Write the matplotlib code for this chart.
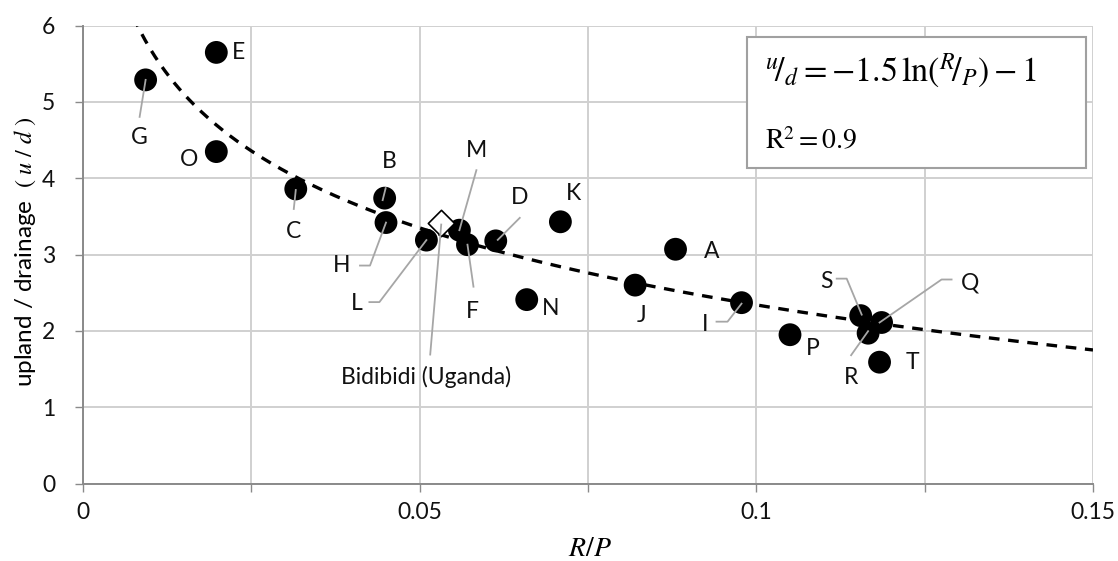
import numpy as np
import matplotlib
matplotlib.use("Agg")
import matplotlib.pyplot as plt
from matplotlib.ticker import FixedLocator, FixedFormatter

plt.rcParams['font.family'] = ['Lato', 'DejaVu Sans']
plt.rcParams['mathtext.fontset'] = 'stix'

# ---- data ----
labels = ['E', 'G', 'O', 'C', 'B', 'H', 'L', 'M', 'F', 'D', 'K', 'N',
          'A', 'J', 'I', 'P', 'S', 'Q', 'R', 'T']
rp = [0.0198, 0.0093, 0.0198, 0.0316, 0.0448, 0.0450, 0.0510, 0.0559,
      0.0571, 0.0613, 0.0709, 0.0659, 0.0880, 0.0820, 0.0978, 0.1050,
      0.1155, 0.1186, 0.1166, 0.1183]
ud = [5.65, 5.29, 4.35, 3.86, 3.74, 3.42, 3.19, 3.32, 3.13, 3.18, 3.43,
      2.41, 3.07, 2.60, 2.37, 1.95, 2.20, 2.11, 1.97, 1.59]
site_label = 'Bidibidi (Uganda)'
site_rp = 0.0532
site_ud = 3.42
# fitted curve u/d = a ln(R/P) + b
fit_a = -1.456
fit_b = -1.012
x_ticks = [0, 0.025, 0.05, 0.075, 0.1, 0.125, 0.15]
x_tick_labels = ['0', '', '0.05', '', '0.1', '', '0.15']
y_ticks = [0, 1, 2, 3, 4, 5, 6]

# ---- layout (label offsets in pixels, y up) ----
text_off = {'E': (22, 0), 'G': (-6, -58), 'O': (-27, -8), 'C': (-2, -43),
            'B': (5, 37), 'H': (-44, -43), 'L': (-70, -63), 'M': (17, 80),
            'F': (5, -67), 'D': (24, 43), 'K': (13, 28), 'N': (24, -9),
            'A': (36, -2), 'J': (6, -30), 'I': (-36, -22), 'P': (23, -14),
            'S': (-34, 34), 'Q': (88, 40), 'R': (-17, -44), 'T': (33, 0)}
leader = {'G': [(-6, -37), (0, 0)],
          'C': [(-2, -20), (0, -1)],
          'B': [(1, 10), (-2, -2)],
          'H': [(-26, -43), (-16, -43), (0, 0)],
          'L': [(-57, -62), (-47, -62), (0, 0)],
          'M': [(17, 60), (0, 0)],
          'F': [(6, -42), (0, 0)],
          'D': [(24, 23), (2, 1)],
          'I': [(-25, -19), (-14, -19), (0, -1)],
          'S': [(-24, 37), (-14, 37), (1, 1)],
          'Q': [(70, 43), (60, 43), (-2, 0)],
          'R': [(-17, -22), (0, 2)]}
site_text_off = (-15, -154)
site_leader = [(-11, -132), (0, -2)]

FS = 16.5
W, H = 1118, 561
fig = plt.figure(figsize=(W / 100, H / 100), dpi=100)
ax = fig.add_axes([83 / W, 1 - 483.5 / H, (1093 - 83) / W, (483.5 - 25.7) / H])
ax.set_xlim(0, 0.15)
ax.set_ylim(0, 6)

grid_c = '#d0d0d0'
ax.xaxis.set_major_locator(FixedLocator(x_ticks))
ax.xaxis.set_major_formatter(FixedFormatter(x_tick_labels))
ax.set_yticks(y_ticks)
ax.grid(True, color=grid_c, lw=1.4, zorder=0)
ax.set_axisbelow(True)
for s in ['top', 'right']:
    ax.spines[s].set_visible(False)
for s in ['left', 'bottom']:
    ax.spines[s].set_color('#8a8a8a')
    ax.spines[s].set_linewidth(1.4)
ax.tick_params(axis='both', direction='out', length=6, width=1.0, color='#8a8a8a',
               labelsize=FS, labelcolor='#111111')
ax.tick_params(axis='x', pad=7)
ax.tick_params(axis='y', pad=14)

ax.set_xlabel(r'$R/P$', fontsize=20, va='center')
ax.xaxis.set_label_coords((590 - 83) / 1010, -(548 - 483.5) / 457.8)
ax.set_ylabel(r'upland / drainage  $(\ u\ /\ d\ )$', fontsize=17.5, va='center')
ax.yaxis.set_label_coords((25 - 83) / 1010, (483.5 - 252) / 457.8)

# fit curve
xc = np.linspace(0.006, 0.15, 400)
yc = fit_a * np.log(xc) + fit_b
ax.plot(xc, yc, color='black', lw=2.4, ls=(0, (3.2, 2.6)), zorder=2, clip_on=True)

# points
ax.scatter(rp, ud, s=270, color='black', zorder=3, edgecolors='none')
ax.scatter([site_rp], [site_ud], s=180, marker='D', facecolor='white',
           edgecolor='black', linewidths=1.2, zorder=4)

fig.canvas.draw()
T = ax.transData
Ti = T.inverted()


def off_pt(x, y, off):
    d = T.transform((x, y))
    return Ti.transform((d[0] + off[0], d[1] + off[1]))


lead_c = '#a6a6a6'
for lab, x, y in zip(labels, rp, ud):
    tx, ty = off_pt(x, y, text_off[lab])
    ax.text(tx, ty, lab, ha='center', va='center', fontsize=FS, color='#111111', zorder=6)
    if lab in leader:
        pts = np.array([off_pt(x, y, o) for o in leader[lab]])
        ax.plot(pts[:, 0], pts[:, 1], color=lead_c, lw=1.3, zorder=5)

tx, ty = off_pt(site_rp, site_ud, site_text_off)
ax.text(tx, ty, site_label, ha='center', va='center', fontsize=FS, color='#111111', zorder=6)
pts = np.array([off_pt(site_rp, site_ud, o) for o in site_leader])
ax.plot(pts[:, 0], pts[:, 1], color=lead_c, lw=1.3, zorder=5)

# equation box
bx0, by0, bx1, by1 = 747.4, 37.4, 1086, 168
rect = plt.Rectangle((bx0 / W, 1 - by1 / H), (bx1 - bx0) / W, (by1 - by0) / H,
                     transform=fig.transFigure, facecolor='white', edgecolor='#a0a0a0',
                     lw=1.5, zorder=10)
fig.add_artist(rect)
fig.text(765 / W, 1 - 70 / H, r'${}^{u}\!/_{d} = -1.5\,\ln({}^{R}\!/_{P}) - 1$',
         fontsize=24.5, va='center', ha='left', zorder=11)
fig.text(765 / W, 1 - 141 / H, r'$\mathrm{R}^2 = 0.9$', fontsize=20,
         va='center', ha='left', zorder=11)

fig.savefig('out.png', dpi=100)
